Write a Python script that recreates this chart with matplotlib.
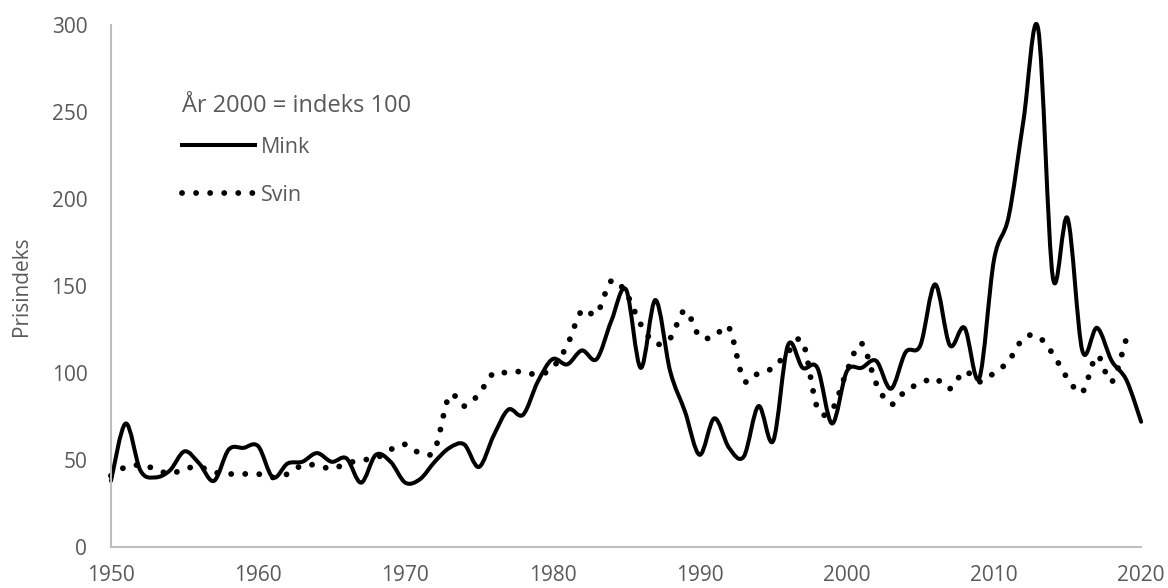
import numpy as np
import matplotlib.pyplot as plt
from matplotlib.path import Path
from matplotlib.patches import PathPatch
from matplotlib.lines import Line2D

plt.rcParams['font.family'] = ['Open Sans', 'DejaVu Sans']

# price index, year 2000 = 100
mink_years = list(range(1950, 2021))
mink = [38, 71, 44, 40, 44, 55, 48, 38, 56, 57,
        58, 40, 48, 49, 54, 49, 51, 37, 53, 49,
        37, 39, 49, 57, 59, 46, 64, 79, 76, 95,
        108, 105, 113, 108, 130, 148, 103, 142, 101, 78,
        53, 74, 57, 52, 81, 61, 116, 103, 103, 71,
        101, 103, 107, 91, 112, 116, 151, 116, 126, 97,
        165, 190, 245, 298, 155, 189, 113, 126, 107, 96,
        72]

svin_years = list(range(1950, 2020))
svin = [41, 46, 47, 45, 42, 45, 46, 43, 42, 42,
        42, 40, 42, 47, 47, 45, 48, 50, 51, 56,
        59, 54, 56, 87, 81, 88, 100, 100, 101, 99,
        103, 116, 136, 134, 153, 146, 128, 117, 120, 136,
        121, 121, 126, 96, 100, 103, 112, 118, 80, 79,
        101, 117, 94, 82, 90, 94, 97, 91, 101, 95,
        100, 107, 120, 121, 111, 97, 89, 110, 95, 120]

x_ticks = [1950, 1960, 1970, 1980, 1990, 2000, 2010, 2020]
y_ticks = [0, 50, 100, 150, 200, 250, 300]

GREY = '#595959'
AXIS = '#bfbfbf'


def smooth_path(xs, ys):
    # Excel style smoothed line: cubic bezier through every point
    p = np.column_stack([xs, ys]).astype(float)
    ext = np.vstack([p[:1], p, p[-1:]])
    verts = [p[0]]
    codes = [Path.MOVETO]
    for i in range(len(p) - 1):
        p0, p1, p2, p3 = ext[i], ext[i + 1], ext[i + 2], ext[i + 3]
        verts += [p1 + (p2 - p0) / 6, p2 - (p3 - p1) / 6, p2]
        codes += [Path.CURVE4] * 3
    return Path(verts, codes)


fig = plt.figure(figsize=(11.68, 5.88), dpi=100)
ax = fig.add_axes([0.095, 0.0697, 0.882, 0.8875])

dots = (0, (0.01, 2.4))
ax.add_patch(PathPatch(smooth_path(svin_years, svin), facecolor='none',
                       edgecolor='black', lw=4.2, linestyle=dots,
                       capstyle='round', clip_on=False))
ax.add_patch(PathPatch(smooth_path(mink_years, mink), facecolor='none',
                       edgecolor='black', lw=2.9, capstyle='round',
                       joinstyle='round', clip_on=False))

ax.set_xlim(1950, 2020)
ax.set_ylim(0, 300)
ax.set_xticks(x_ticks)
ax.set_yticks(y_ticks)
ax.tick_params(length=0, labelsize=15, labelcolor=GREY)
ax.tick_params(axis='y', pad=17)
ax.tick_params(axis='x', pad=13)
for s in ['top', 'right']:
    ax.spines[s].set_visible(False)
for s in ['left', 'bottom']:
    ax.spines[s].set_color(AXIS)
    ax.spines[s].set_linewidth(1.5)
ax.set_ylabel('Prisindeks', fontsize=15, color=GREY, labelpad=14)

ax.text(0.069, 0.845, 'År 2000 = indeks 100', transform=ax.transAxes,
        fontsize=17, color=GREY, ha='left', va='center')

handles = [Line2D([], [], color='black', lw=2.9),
           Line2D([], [], color='black', lw=4.2, linestyle=dots,
                  dash_capstyle='round')]
leg = ax.legend(handles, ['Mink', 'Svin'],
                loc='center left', bbox_to_anchor=(0.069, 0.72),
                frameon=False, fontsize=15.5, borderaxespad=0,
                handlelength=3.4, handletextpad=0.25, labelspacing=1.25,
                borderpad=0)
for t in leg.get_texts():
    t.set_color(GREY)

fig.savefig('out.png', dpi=100)
